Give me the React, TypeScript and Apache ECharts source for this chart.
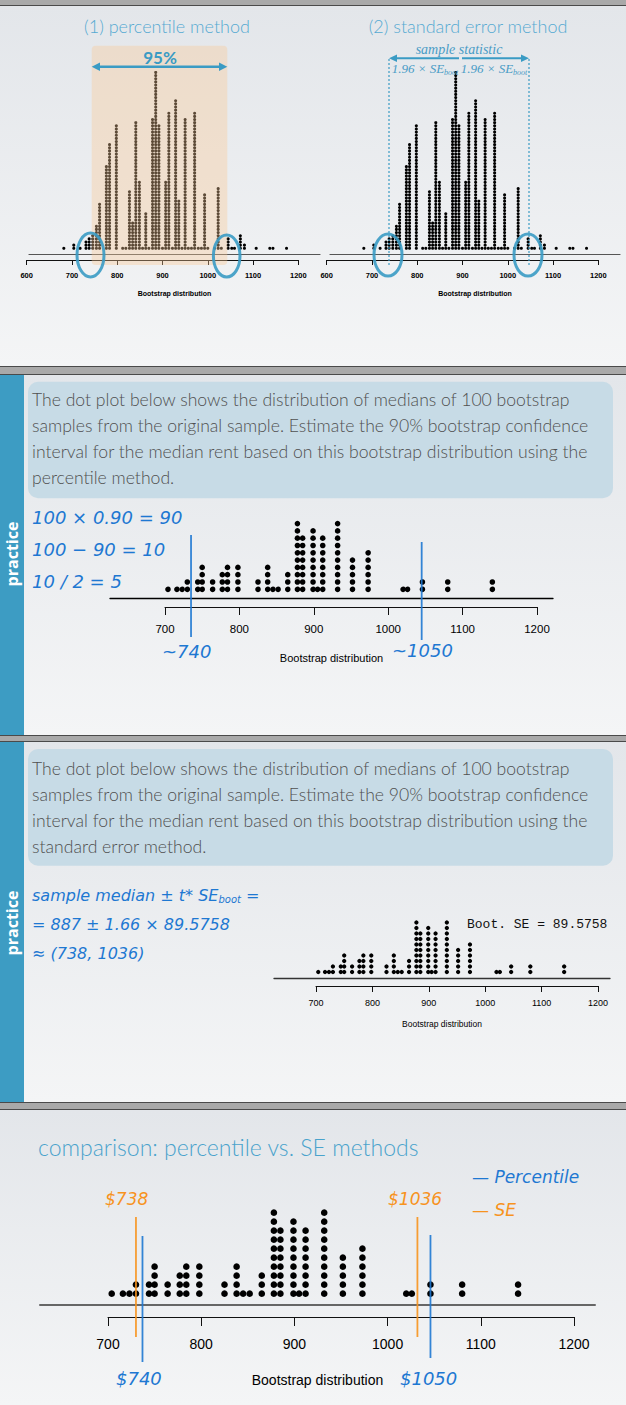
import React, { useEffect, useRef } from "react";
import * as echarts from "echarts";

// ---------- DATA ----------
// 100 bootstrap medians (practice + comparison panels)
const medianValues = [704, 716, 723, 730, 744, 750, 764, 777, 784, 798, 825, 838, 845, 852, 865, 878, 885, 899, 905, 912, 932, 952, 973, 1020, 1026, 1046, 1080, 1140];
const medianCounts = [1, 1, 1, 2, 2, 4, 2, 3, 4, 4, 2, 4, 1, 1, 3, 10, 8, 9, 1, 8, 10, 5, 6, 1, 1, 2, 2, 2];

// large bootstrap distribution (top panel)
const bigValues = [682, 704, 718, 731, 738, 746, 754, 761, 776, 783, 798, 812, 819, 827, 834, 841, 849, 856, 863, 870, 878, 885, 892, 900, 907, 914, 922, 929, 936, 943, 950, 957, 964, 971, 979, 986, 993, 1000, 1015, 1023, 1030, 1045, 1053, 1059, 1072, 1081, 1107, 1137, 1144, 1174];
const bigCounts = [1, 2, 1, 3, 4, 5, 8, 15, 27, 34, 40, 1, 1, 19, 9, 41, 22, 1, 12, 1, 42, 57, 40, 1, 22, 44, 1, 48, 16, 1, 42, 1, 1, 44, 1, 1, 18, 1, 1, 20, 1, 4, 1, 1, 5, 2, 1, 1, 1, 1];

const topTickRange = [600, 1200];
const tickRange = [700, 1200];
const tickStep = 100;

// hand-drawn interval marks (as drawn)
const practicePctMarks = [735, 1045];
const comparePctMarks = [737, 1046];
const compareSeMarks = [730, 1032];

const boxText1 = [
  "The dot plot below shows the distribution of medians of 100 bootstrap",
  "samples from the original sample. Estimate the 90% bootstrap confidence",
  "interval for the median rent based on this bootstrap distribution using the",
  "percentile method.",
];
const boxText2 = [
  "The dot plot below shows the distribution of medians of 100 bootstrap",
  "samples from the original sample. Estimate the 90% bootstrap confidence",
  "interval for the median rent based on this bootstrap distribution using the",
  "standard error method.",
];

// ---------- LAYOUT ----------
const W = 626;
const H = 1405;
const TEAL = "#3a9bc4";
const HAND_BLUE = "#1e78d2";
const HAND_ORANGE = "#f7931e";
const HAND = "'DejaVu Sans', sans-serif";
const GILL = "Lato, 'Open Sans', sans-serif";
const ARIAL = "'Liberation Sans', Arial, sans-serif";

function expand(values: number[], counts: number[]) {
  const out: number[][] = [];
  values.forEach((v, i) => {
    for (let k = 1; k <= counts[i]; k++) out.push([v, k]);
  });
  return out;
}

const grids: any[] = [];
const xAxes: any[] = [];
const yAxes: any[] = [];
const series: any[] = [];

type Plot = {
  x0: number; x1: number; tMin: number; tMax: number;
  lineL: number; lineR: number; lineY: number;
  baseY: number; pitch: number; dot: number; maxK: number;
  axisY: number; tickLen: number; labelSize: number; labelMargin: number; labelBold?: boolean;
  nameSize: number; nameGap: number; baseColor: string; baseWidth: number; dotColor: string;
};

function vAt(p: Plot, px: number) {
  const s = (p.x1 - p.x0) / (p.tMax - p.tMin);
  return p.tMin + (px - p.x0) / s;
}

function addPlot(p: Plot, data: number[][]) {
  const hgt = p.lineY - p.baseY + p.maxK * p.pitch;
  const gi = grids.length;
  grids.push({ left: p.lineL, top: p.lineY - hgt, width: p.lineR - p.lineL, height: hgt, containLabel: false, outerBoundsMode: "none" });
  xAxes.push({
    gridIndex: gi, type: "value", min: vAt(p, p.lineL), max: vAt(p, p.lineR), z: 3,
    axisLine: { show: true, onZero: false, lineStyle: { color: p.baseColor, width: p.baseWidth } },
    axisTick: { show: false }, axisLabel: { show: false }, splitLine: { show: false },
    name: "Bootstrap distribution", nameLocation: "middle", nameGap: p.nameGap,
    nameTextStyle: { fontSize: p.nameSize, fontFamily: ARIAL, color: "#000", fontWeight: p.labelBold ? "bold" : "normal" },
  });
  const ymin = 1 - (p.lineY - p.baseY) / p.pitch;
  yAxes.push({ gridIndex: gi, type: "value", min: ymin, max: ymin + hgt / p.pitch, show: false, splitLine: { show: false } });
  series.push({
    type: "scatter", xAxisIndex: xAxes.length - 1, yAxisIndex: yAxes.length - 1,
    data, symbolSize: p.dot, itemStyle: { color: p.dotColor, opacity: 1 }, silent: true, z: 2,
  });
  // tick axis
  grids.push({ left: p.x0, top: p.axisY - 10, width: p.x1 - p.x0, height: 10, containLabel: false, outerBoundsMode: "none" });
  xAxes.push({
    gridIndex: gi + 1, type: "value", min: p.tMin, max: p.tMax, interval: tickStep, z: 3,
    axisLine: { show: true, onZero: false, lineStyle: { color: "#111", width: 1 } },
    axisTick: { show: true, inside: false, length: p.tickLen, lineStyle: { color: "#111", width: 1 } },
    axisLabel: {
      show: true, margin: p.labelMargin, fontSize: p.labelSize, fontFamily: ARIAL, color: "#000",
      fontWeight: p.labelBold ? "bold" : "normal", showMinLabel: true, showMaxLabel: true,
      formatter: (v: number) => String(v),
    },
    splitLine: { show: false },
  });
  yAxes.push({ gridIndex: gi + 1, type: "value", min: 0, max: 1, show: false, splitLine: { show: false } });
}

function addMarks(p: Plot, top: number, bottom: number, marks: number[], ends: number[][], color: string) {
  const gi = grids.length;
  grids.push({ left: p.lineL, top, width: p.lineR - p.lineL, height: bottom - top, containLabel: false, outerBoundsMode: "none" });
  xAxes.push({ gridIndex: gi, type: "value", min: vAt(p, p.lineL), max: vAt(p, p.lineR), show: false, splitLine: { show: false } });
  yAxes.push({ gridIndex: gi, type: "value", min: top, max: bottom, inverse: true, show: false, splitLine: { show: false } });
  marks.forEach((v, i) => {
    series.push({
      type: "line", xAxisIndex: xAxes.length - 1, yAxisIndex: yAxes.length - 1,
      data: [[v, ends[i][0]], [v, ends[i][1]]], symbol: "none", silent: true, z: 6,
      lineStyle: { color, width: 1.8, opacity: 0.9 },
    });
  });
}

const bigData = expand(bigValues, bigCounts);
const medData = expand(medianValues, medianCounts);

const topCommon = {
  tMin: topTickRange[0], tMax: topTickRange[1], lineY: 254, baseY: 248.3, pitch: 3.14, dot: 3.1, maxK: 60,
  axisY: 260, tickLen: 5, labelSize: 7.5, labelMargin: 11, labelBold: true, nameSize: 7, nameGap: 35.5,
  baseColor: "#555", baseWidth: 1.2, dotColor: "#000",
};
const plotTL: Plot = { ...topCommon, x0: 26.7, x1: 298.3, lineL: 29, lineR: 320 } as Plot;
const plotTR: Plot = { ...topCommon, x0: 326.7, x1: 598.3, lineL: 330, lineR: 620 } as Plot;
const plotP2: Plot = {
  x0: 165, x1: 537, tMin: tickRange[0], tMax: tickRange[1], lineL: 110, lineR: 553, lineY: 598,
  baseY: 589.3, pitch: 7.3, dot: 5.6, maxK: 12, axisY: 607, tickLen: 8, labelSize: 11.5, labelMargin: 16,
  nameSize: 11, nameGap: 54.5, baseColor: "#000", baseWidth: 1.3, dotColor: "#000",
};
const plotP3: Plot = {
  x0: 316, x1: 598, tMin: tickRange[0], tMax: tickRange[1], lineL: 274, lineR: 610, lineY: 978.7,
  baseY: 972, pitch: 5.5, dot: 4.3, maxK: 12, axisY: 986, tickLen: 6, labelSize: 9, labelMargin: 12,
  nameSize: 8.5, nameGap: 41, baseColor: "#333", baseWidth: 1.3, dotColor: "#000",
};
const plotP4: Plot = {
  x0: 108, x1: 574, tMin: tickRange[0], tMax: tickRange[1], lineL: 40, lineR: 595, lineY: 1305,
  baseY: 1293.7, pitch: 9, dot: 6.6, maxK: 12, axisY: 1317, tickLen: 9, labelSize: 14, labelMargin: 20,
  nameSize: 14, nameGap: 68, baseColor: "#666", baseWidth: 2, dotColor: "#000",
};

addPlot(plotTL, bigData);
addPlot(plotTR, bigData);
addPlot(plotP2, medData);
addPlot(plotP3, medData);
addPlot(plotP4, medData);
addMarks(plotP2, 530, 645, practicePctMarks, [[535, 637], [542, 640]], HAND_BLUE);
addMarks(plotP4, 1210, 1365, compareSeMarks, [[1217, 1337], [1217, 1337]], HAND_ORANGE);
addMarks(plotP4, 1210, 1365, comparePctMarks, [[1236, 1362], [1235, 1358]], HAND_BLUE);

// ---------- GRAPHICS ----------
const G: any[] = [];
const bgGrad = () =>
  new echarts.graphic.LinearGradient(0, 0, 0, 1, [
    { offset: 0, color: "#e3e6ea" },
    { offset: 1, color: "#f4f5f6" },
  ]);
G.push({ type: "rect", z: -20, shape: { x: 0, y: 0, width: W, height: H }, style: { fill: "#a9a9a9" } });
[[6, 366], [375, 735], [742, 1102], [1110, 1405]].forEach(([a, b]) =>
  G.push({ type: "rect", z: -19, shape: { x: 0, y: a, width: W, height: b - a }, style: { fill: bgGrad() } })
);
[5, 366, 374, 735, 741, 1102, 1109].forEach((y) =>
  G.push({ type: "rect", z: -18, shape: { x: 0, y, width: W, height: 1 }, style: { fill: "#4a4a4a" } })
);
[[375, 735], [742, 1102]].forEach(([a, b]) =>
  G.push({ type: "rect", z: -18, shape: { x: 0, y: a, width: 24, height: b - a }, style: { fill: "#3d9cc3" } })
);

function T(x: number, y: number, text: string, o: any = {}) {
  return {
    type: "text", x, y, z: o.z ?? 20, rotation: o.rotation ?? 0,
    style: {
      text, fill: o.fill ?? "#000", fontSize: o.size ?? 14, fontFamily: o.family ?? ARIAL,
      fontWeight: o.weight ?? "normal", fontStyle: o.style ?? "normal",
      align: o.align ?? "left", verticalAlign: o.valign ?? "middle", rich: o.rich,
    },
  };
}

// Panel 1
G.push(T(167, 26, "(1) percentile method", { size: 18, family: GILL, weight: 300, fill: "#56aad2", align: "center" }));
G.push(T(468, 26, "(2) standard error method", { size: 18, family: GILL, weight: 300, fill: "#56aad2", align: "center" }));
G.push({ type: "rect", z: 10, shape: { x: 91.7, y: 45.7, width: 135.6, height: 219.3, r: 4 }, style: { fill: "rgba(250,200,150,0.37)" } });
G.push(T(160, 57.5, "95%", { size: 17, family: GILL, weight: "bold", fill: TEAL, align: "center" }));
G.push({ type: "line", z: 12, shape: { x1: 98, y1: 66.7, x2: 221, y2: 66.7 }, style: { stroke: TEAL, lineWidth: 2.4 } });
G.push({ type: "polygon", z: 12, shape: { points: [[91.7, 66.7], [100, 62.5], [100, 70.9]] }, style: { fill: TEAL } });
G.push({ type: "polygon", z: 12, shape: { points: [[227.3, 66.7], [219, 62.5], [219, 70.9]] }, style: { fill: TEAL } });
// right plot annotations
[389, 529].forEach((x) =>
  G.push({ type: "line", z: 12, shape: { x1: x, y1: 59, x2: x, y2: 267 }, style: { stroke: TEAL, lineWidth: 1.2, lineDash: [2, 2] } })
);
G.push({ type: "line", z: 12, shape: { x1: 459, y1: 58.3, x2: 395, y2: 58.3 }, style: { stroke: TEAL, lineWidth: 2 } });
G.push({ type: "polygon", z: 12, shape: { points: [[389, 58.3], [397, 54.5], [397, 62.1]] }, style: { fill: TEAL } });
G.push({ type: "line", z: 12, shape: { x1: 462, y1: 58.3, x2: 523, y2: 58.3 }, style: { stroke: TEAL, lineWidth: 2 } });
G.push({ type: "polygon", z: 12, shape: { points: [[529, 58.3], [521, 54.5], [521, 62.1]] }, style: { fill: TEAL } });
G.push(T(459, 49, "sample statistic", { size: 14, family: "'Liberation Serif', serif", style: "italic", fill: "#4a9cc6", align: "center" }));
const seRich = { s: { fontSize: 8, lineHeight: 8, padding: [8, 0, 0, 0], fontFamily: "'Liberation Serif', serif", fontStyle: "italic", fill: "#4a9cc6" } };
G.push(T(425, 68, "1.96 × SE{s|boot}", { size: 13, family: "'Liberation Serif', serif", style: "italic", fill: "#4a9cc6", align: "center", rich: seRich }));
G.push(T(494, 68, "1.96 × SE{s|boot}", { size: 13, family: "'Liberation Serif', serif", style: "italic", fill: "#4a9cc6", align: "center", rich: seRich }));
[[90.5, 255, 13.5, 22], [226.7, 256, 13.3, 21], [388, 255, 14, 21], [528, 255, 14, 21]].forEach(([cx, cy, rx, ry]) =>
  G.push({ type: "ellipse", z: 14, shape: { cx, cy, rx, ry }, style: { fill: "none", stroke: TEAL, lineWidth: 3, opacity: 0.9 } })
);

// Panels 2 & 3 question boxes
[[381.7, 498.3, boxText1, 399], [749, 865.7, boxText2, 768]].forEach(([top, bot, lines, y0]: any) => {
  G.push({ type: "rect", z: -10, shape: { x: 28, y: top, width: 585, height: bot - top, r: 10 }, style: { fill: "#c7dbe6" } });
  lines.forEach((l: string, i: number) => G.push(T(32, y0 + i * 26, l, { size: 17.6, family: GILL, weight: 300, fill: "#505050" })));
});
G.push(T(12, 554, "practice", { size: 16, family: "'Open Sans', sans-serif", weight: "bold", fill: "#fff", align: "center", rotation: Math.PI / 2 }));
G.push(T(12, 923, "practice", { size: 16, family: "'Open Sans', sans-serif", weight: "bold", fill: "#fff", align: "center", rotation: Math.PI / 2 }));

const hand = (x: number, y: number, t: string, fill: string, size = 17, extra: any = {}) =>
  T(x, y, t, { size, family: HAND, style: "italic", fill, ...extra });
// Panel 2 handwriting
G.push(hand(32, 517, "100 × 0.90 = 90", HAND_BLUE, 18));
G.push(hand(32, 549, "100 − 90 = 10", HAND_BLUE, 18));
G.push(hand(32, 581, "10 / 2 = 5", HAND_BLUE, 18));
G.push(hand(162, 651, "~740", HAND_BLUE, 18));
G.push(hand(392, 650, "~1050", HAND_BLUE, 18));
// Panel 3 handwriting
G.push(hand(32, 895, "sample median ± t* SE{s|boot} =", HAND_BLUE, 16, {
  rich: { s: { fontSize: 10, lineHeight: 10, padding: [9, 0, 0, 0], fontFamily: HAND, fontStyle: "italic", fill: HAND_BLUE } },
}));
G.push(hand(32, 924, "= 887 ± 1.66 × 89.5758", HAND_BLUE, 16));
G.push(hand(32, 953, "≈ (738, 1036)", HAND_BLUE, 16));
G.push(T(467, 924, "Boot. SE = 89.5758", { size: 13, family: "'Liberation Mono', monospace", fill: "#111" }));

// Panel 4
G.push(T(38, 1147, "comparison: percentile vs. SE methods", { size: 23, family: GILL, weight: 300, fill: "#4aa3cc" }));
G.push(hand(472, 1177, "— Percentile", HAND_BLUE, 17));
G.push(hand(472, 1210, "— SE", HAND_ORANGE, 17));
G.push(hand(105, 1199, "$738", HAND_ORANGE, 17));
G.push(hand(388, 1199, "$1036", HAND_ORANGE, 17));
G.push(hand(116, 1378, "$740", HAND_BLUE, 18));
G.push(hand(400, 1378, "$1050", HAND_BLUE, 18));

const option: any = {
  animation: false,
  backgroundColor: "transparent",
  grid: grids,
  xAxis: xAxes,
  yAxis: yAxes,
  series,
  graphic: { elements: G },
};

export default function App() {
  const ref = useRef<HTMLDivElement>(null);
  useEffect(() => {
    document.body.style.margin = "0";
    const chart = echarts.init(ref.current!, undefined, { renderer: "svg", width: W, height: H });
    chart.setOption(option);
    return () => chart.dispose();
  }, []);
  return <div ref={ref} style={{ width: W, height: H }} />;
}
